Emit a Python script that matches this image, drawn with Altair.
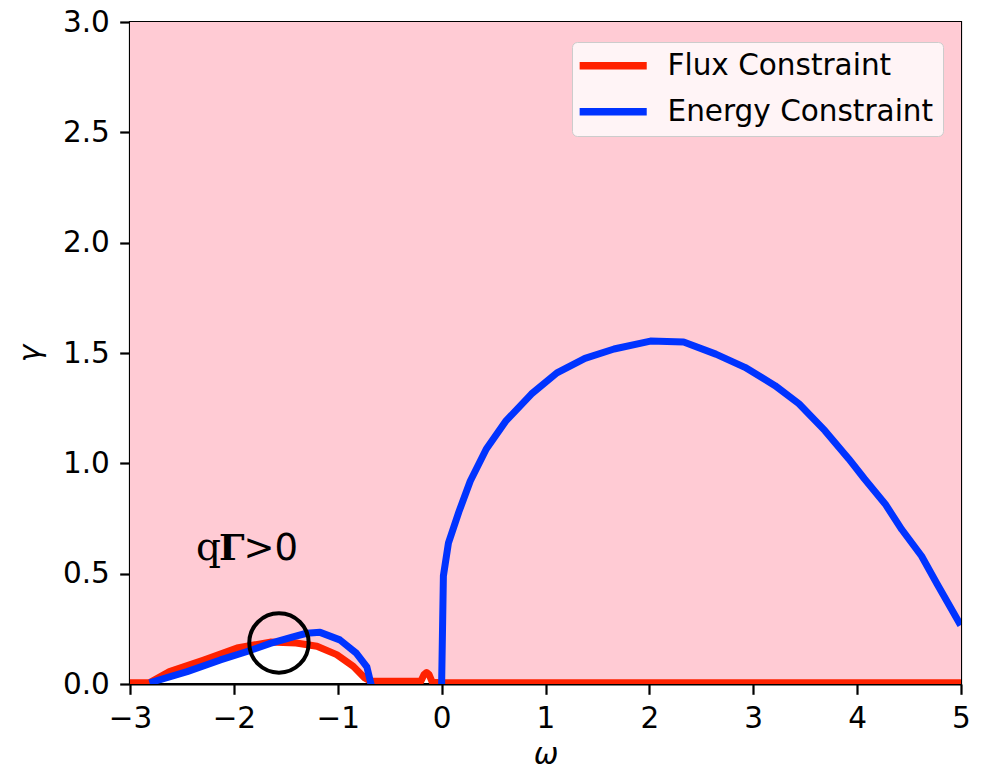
import altair as alt
import pandas as pd

# ---- curves (omega, gamma) ----
omega_flux = [-3.0, -2.81, -2.62, -2.29, -1.97, -1.65, -1.40, -1.20, -1.01, -0.85,
              -0.74, -0.69, -0.45, -0.20, -0.17, -0.145, -0.12, -0.09, 0.0,
              1.0, 2.0, 3.0, 4.0, 5.0]
gamma_flux = [0.006, 0.006, 0.056, 0.109, 0.163, 0.190, 0.186, 0.171, 0.133, 0.080,
              0.027, 0.014, 0.012, 0.012, 0.042, 0.052, 0.042, 0.008, 0.006,
              0.006, 0.006, 0.006, 0.006, 0.006]

omega_energy_low = [-2.78, -2.45, -2.13, -1.88, -1.65, -1.43, -1.30, -1.17, -0.98,
                    -0.82, -0.72, -0.68]
gamma_energy_low = [0.010, 0.056, 0.109, 0.146, 0.184, 0.214, 0.230, 0.234, 0.200,
                    0.139, 0.078, 0.0]

omega_energy_high = [0.0, 0.017, 0.066, 0.166, 0.276, 0.43, 0.615, 0.864, 1.11, 1.38,
                     1.66, 2.01, 2.33, 2.64, 2.92, 3.21, 3.44, 3.69, 3.92, 4.07,
                     4.27, 4.43, 4.62, 4.77, 4.98]
gamma_energy_high = [0.0, 0.49, 0.64, 0.78, 0.92, 1.065, 1.19, 1.314, 1.41, 1.476,
                     1.518, 1.554, 1.550, 1.495, 1.435, 1.352, 1.27, 1.148, 1.02, 0.93,
                     0.816, 0.70, 0.58, 0.453, 0.28]

series_names = ["Flux Constraint", "Energy Constraint"]
series_colors = ["#FF2200", "#0033FF"]

x_ticks = [-3, -2, -1, 0, 1, 2, 3, 4, 5]
y_ticks = [0.0, 0.5, 1.0, 1.5, 2.0, 2.5, 3.0]
y_top = 3.0

# annotation: ring around the crossing and the region label
ring_omega = [-1.566]
ring_gamma = [0.186]
label_omega = [-2.365, -2.143, -1.907]
label_gamma = [0.562, 0.562, 0.562]
label_parts = ["q", "Γ", ">0"]

PINK = "#FFCBD4"
FS = 29.5

flux = pd.DataFrame({"omega": omega_flux, "gamma": gamma_flux,
                     "top": y_top, "series": series_names[0]})
energy = pd.concat([
    pd.DataFrame({"omega": omega_energy_low, "gamma": gamma_energy_low, "branch": "low"}),
    pd.DataFrame({"omega": omega_energy_high, "gamma": gamma_energy_high, "branch": "high"}),
])
energy["series"] = series_names[1]
ring = pd.DataFrame({"omega": ring_omega, "gamma": ring_gamma})
labels = pd.DataFrame({"omega": label_omega, "gamma": label_gamma, "text": label_parts})

x_enc = alt.X("omega:Q",
              scale=alt.Scale(domain=[-3, 5], nice=False, zero=False),
              axis=alt.Axis(values=x_ticks, format="d", title="ω",
                            titleX=415.5, titleY=79, titleAlign="center",
                            titleBaseline="alphabetic"))
y_enc = alt.Y("gamma:Q",
              scale=alt.Scale(domain=[0, 3], nice=False, zero=False),
              axis=alt.Axis(values=y_ticks, format=".1f", title="γ",
                            titleX=-91, titleY=331, titleAngle=-90,
                            titleAlign="center", titleBaseline="alphabetic"))

color_enc = alt.Color(
    "series:N",
    scale=alt.Scale(domain=series_names, range=series_colors),
    legend=alt.Legend(
        title=None, orient="none", legendX=442, legendY=20,
        symbolType="M-2.4,0H7.6", symbolSize=180, symbolStrokeWidth=7.5,
        labelFont="DejaVu Sans", labelFontSize=FS, labelColor="black",
        labelLimit=0, labelOffset=57, rowPadding=15, padding=9,
        fillColor="#FFF4F6", strokeColor="#CCCCCC", cornerRadius=5,
    ),
)

region = alt.Chart(flux).mark_area(color=PINK, clip=True).encode(
    x=x_enc, y=y_enc, y2="top:Q")

flux_line = alt.Chart(flux).mark_line(
    strokeWidth=7, strokeJoin="round", strokeCap="square", clip=True
).encode(x=x_enc, y=y_enc, color=color_enc)

energy_line = alt.Chart(energy).mark_line(
    strokeWidth=7, strokeJoin="round", strokeCap="square", clip=True
).encode(x=x_enc, y=y_enc, color=color_enc, detail="branch:N")

ring_mark = alt.Chart(ring).mark_point(
    shape="circle", size=3526, filled=False, stroke="black",
    strokeWidth=4, opacity=1
).encode(x=x_enc, y=y_enc)

text_q = alt.Chart(labels.iloc[[0]]).mark_text(
    align="left", baseline="alphabetic", font="DejaVu Serif",
    fontSize=39, color="black"
).encode(x=x_enc, y=y_enc, text="text:N")
text_gamma = alt.Chart(labels.iloc[[1]]).mark_text(
    align="left", baseline="alphabetic", font="DejaVu Serif",
    fontWeight="bold", fontSize=36, color="black"
).encode(x=x_enc, y=y_enc, text="text:N")
text_rest = alt.Chart(labels.iloc[[2]]).mark_text(
    align="left", baseline="alphabetic", font="DejaVu Sans",
    fontSize=37, color="black"
).encode(x=x_enc, y=y_enc, text="text:N")

chart = alt.layer(
    region, flux_line, energy_line, ring_mark, text_q, text_gamma, text_rest
).properties(
    width=831, height=662,
    autosize=alt.AutoSizeParams(type="none"),
    padding={"left": 130, "top": 22, "right": 23, "bottom": 91},
    background="white",
).configure_view(
    stroke="black", strokeWidth=2.2
).configure_axis(
    domainColor="black", domainWidth=2.2, tickColor="black", tickWidth=2.2,
    tickSize=10.3, labelPadding=10.3, labelFont="DejaVu Sans", labelFontSize=FS,
    labelColor="black", labelFlush=False, labelOverlap=False, grid=False,
    titleFont="DejaVu Sans", titleFontSize=FS, titleFontStyle="italic",
    titleFontWeight="normal", titleColor="black",
)

chart.save("out.html", embed_options={"renderer": "svg", "actions": False})
